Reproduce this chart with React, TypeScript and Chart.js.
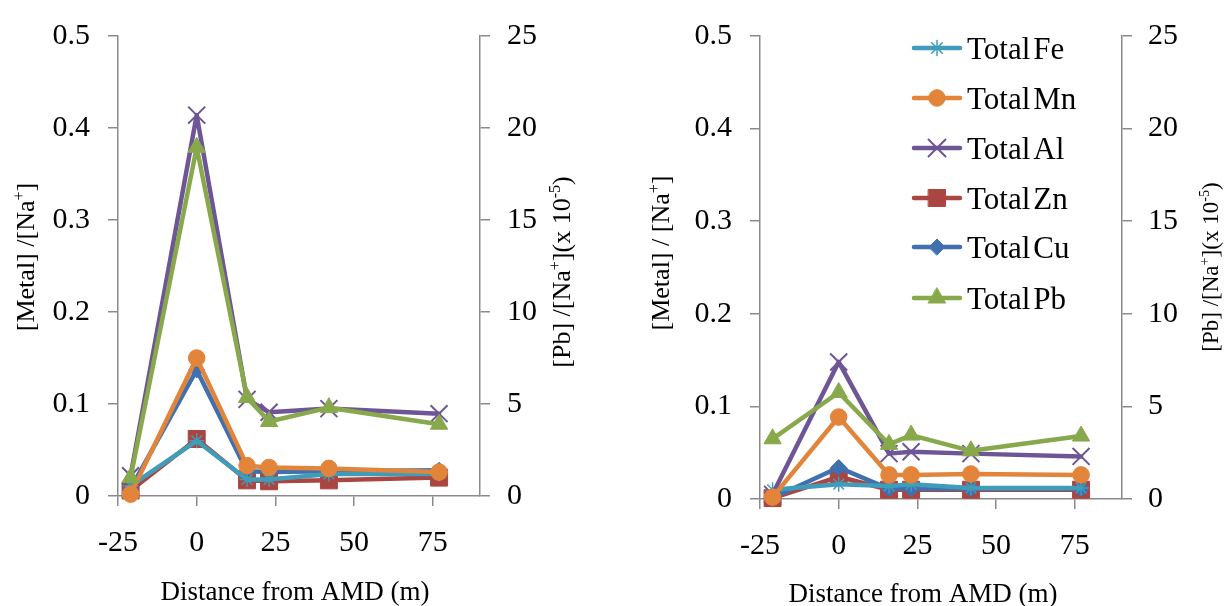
import React, { useEffect, useRef } from 'react';
import { Chart, registerables } from 'chart.js';
import { drawPoint } from 'chart.js/helpers';

Chart.register(...registerables);

// ---------- data ----------
const distances = [-21, 0, 16, 23, 42, 77];
const xTicks = [-25, 0, 25, 50, 75];
const yTicks = [0, 0.1, 0.2, 0.3, 0.4, 0.5];
const y2Ticks = [0, 5, 10, 15, 20, 25];

const seriesNames = ['Total Fe', 'Total Mn', 'Total Al', 'Total Zn', 'Total Cu', 'Total Pb'];

// left panel
const leftFe = [0.011, 0.060, 0.018, 0.018, 0.024, 0.024];
const leftMn = [0.002, 0.150, 0.033, 0.031, 0.030, 0.026];
const leftAl = [0.022, 0.414, 0.105, 0.091, 0.095, 0.0895];
const leftZn = [0.006, 0.062, 0.017, 0.016, 0.017, 0.020];
const leftCu = [0.008, 0.137, 0.027, 0.026, 0.027, 0.028];
const leftPb = [1.0, 18.95, 5.35, 4.05, 4.8, 3.9];

// right panel
const rightFe = [0.010, 0.016, 0.014, 0.016, 0.012, 0.012];
const rightMn = [0.002, 0.0885, 0.026, 0.026, 0.027, 0.026];
const rightAl = [0.005, 0.148, 0.049, 0.051, 0.049, 0.046];
const rightZn = [0.001, 0.024, 0.010, 0.010, 0.010, 0.010];
const rightCu = [0.001, 0.034, 0.011, 0.011, 0.011, 0.011];
const rightPb = [3.25, 5.75, 2.95, 3.45, 2.6, 3.4];

// ---------- styles ----------
const FONT = '"Liberation Serif", "Times New Roman", serif';
const AXIS_COLOR = '#8a8a8a';

type Style = { color: string; pointStyle: string; radius: number; pbw: number };
const STYLES: Record<string, Style> = {
  'Total Fe': { color: '#3F9DBA', pointStyle: 'star', radius: 7.5, pbw: 1.5 },
  'Total Mn': { color: '#E2853B', pointStyle: 'circle', radius: 8.3, pbw: 1 },
  'Total Al': { color: '#6E5596', pointStyle: 'crossRot', radius: 12, pbw: 2 },
  'Total Zn': { color: '#AB4542', pointStyle: 'rect', radius: 12, pbw: 1 },
  'Total Cu': { color: '#4071AE', pointStyle: 'rectRot', radius: 8, pbw: 1 },
  'Total Pb': { color: '#88A84C', pointStyle: 'triangle', radius: 10, pbw: 1 },
};

type Seg = { t: string; sup?: boolean };

function drawRich(ctx: CanvasRenderingContext2D, segs: Seg[], cx: number, cy: number, size: number, rotate: boolean) {
  ctx.save();
  ctx.translate(cx, cy);
  if (rotate) ctx.rotate(-Math.PI / 2);
  ctx.fillStyle = '#000';
  ctx.textBaseline = 'alphabetic';
  ctx.textAlign = 'left';
  const supSize = size * 0.62;
  const widths = segs.map((s) => {
    ctx.font = `${s.sup ? supSize : size}px ${FONT}`;
    return ctx.measureText(s.t).width;
  });
  const total = widths.reduce((a, b) => a + b, 0);
  let x = -total / 2;
  const base = size * 0.28;
  segs.forEach((s, i) => {
    ctx.font = `${s.sup ? supSize : size}px ${FONT}`;
    ctx.fillText(s.t, x, s.sup ? base - size * 0.4 : base);
    x += widths[i];
  });
  ctx.restore();
}

type PanelCfg = {
  fe: number[]; mn: number[]; al: number[]; zn: number[]; cu: number[]; pb: number[];
  yW: number; y1W: number; xH: number;
  yTitle: Seg[]; yTitlePos: [number, number]; yTitleSize: number;
  y1Title: Seg[]; y1TitlePos: [number, number]; y1TitleSize: number;
  xTitlePos: [number, number]; xTitleSize: number;
  legend: boolean;
};

const xTitle: Seg[] = [{ t: 'Distance from AMD (m)' }];

const leftPanel: PanelCfg = {
  fe: leftFe, mn: leftMn, al: leftAl, zn: leftZn, cu: leftCu, pb: leftPb,
  yW: 118, y1W: 132, xH: 110,
  yTitle: [{ t: '[Metal] /[Na' }, { t: '+', sup: true }, { t: ']' }],
  yTitlePos: [27, 257], yTitleSize: 26,
  y1Title: [{ t: '[Pb] /[Na' }, { t: '+', sup: true }, { t: '](x 10' }, { t: '-5', sup: true }, { t: ')' }],
  y1TitlePos: [563, 272], y1TitleSize: 26,
  xTitlePos: [295, 592], xTitleSize: 27,
  legend: false,
};

const rightPanel: PanelCfg = {
  fe: rightFe, mn: rightMn, al: rightAl, zn: rightZn, cu: rightCu, pb: rightPb,
  yW: 148, y1W: 103, xH: 107,
  yTitle: [{ t: '[Metal] / [Na' }, { t: '+', sup: true }, { t: ']' }],
  yTitlePos: [50, 253], yTitleSize: 26,
  y1Title: [{ t: '[Pb] /[Na' }, { t: '+', sup: true }, { t: '](x 10' }, { t: '-5', sup: true }, { t: ')' }],
  y1TitlePos: [600, 267], y1TitleSize: 23,
  xTitlePos: [311, 594], xTitleSize: 27,
  legend: true,
};

const legendRows = [48, 98, 148, 198, 247, 298];

function buildConfig(p: PanelCfg): any {
  const valuesByName: Record<string, number[]> = {
    'Total Fe': p.fe, 'Total Mn': p.mn, 'Total Al': p.al,
    'Total Zn': p.zn, 'Total Cu': p.cu, 'Total Pb': p.pb,
  };
  // first dataset is drawn on top
  const drawOrder = ['Total Pb', 'Total Mn', 'Total Al', 'Total Fe', 'Total Cu', 'Total Zn'];
  const datasets = drawOrder.map((name) => {
    const st = STYLES[name];
    return {
      label: name,
      data: distances.map((x, i) => ({ x, y: valuesByName[name][i] })),
      yAxisID: name === 'Total Pb' ? 'y1' : 'y',
      borderColor: st.color,
      backgroundColor: st.color,
      borderWidth: 4.5,
      borderJoinStyle: 'round',
      borderCapStyle: 'round',
      tension: 0,
      pointStyle: st.pointStyle,
      pointRadius: st.radius,
      pointBorderWidth: st.pbw,
      pointBackgroundColor: st.color,
      pointBorderColor: st.color,
      clip: false,
    };
  });

  const tickFont = { family: FONT, size: 30 };
  const grid = { drawOnChartArea: false, drawTicks: true, tickLength: 10, color: AXIS_COLOR, lineWidth: 1.5 };
  const border = { color: AXIS_COLOR, width: 1.5 };

  const titlesPlugin = {
    id: 'customTitles',
    afterDraw(chart: any) {
      const ctx = chart.ctx as CanvasRenderingContext2D;
      drawRich(ctx, p.yTitle, p.yTitlePos[0], p.yTitlePos[1], p.yTitleSize, true);
      drawRich(ctx, p.y1Title, p.y1TitlePos[0], p.y1TitlePos[1], p.y1TitleSize, true);
      drawRich(ctx, xTitle, p.xTitlePos[0], p.xTitlePos[1], p.xTitleSize, false);
      if (p.legend) {
        seriesNames.forEach((name, i) => {
          const st = STYLES[name];
          const y = legendRows[i];
          ctx.save();
          ctx.strokeStyle = st.color;
          ctx.lineWidth = 4.5;
          ctx.lineCap = 'round';
          ctx.beginPath();
          ctx.moveTo(302, y);
          ctx.lineTo(348, y);
          ctx.stroke();
          ctx.fillStyle = st.color;
          ctx.lineWidth = st.pbw;
          drawPoint(ctx, { pointStyle: st.pointStyle, radius: st.radius, rotation: 0, borderWidth: st.pbw } as any, 325, y);
          ctx.fillStyle = '#000';
          ctx.font = `31px ${FONT}`;
          ctx.textBaseline = 'alphabetic';
          ctx.textAlign = 'left';
          const parts = name.split(' ');
          ctx.fillText(parts[0], 355, y + 10.5);
          const w = ctx.measureText(parts[0]).width;
          ctx.fillText(parts[1], 355 + w + 3, y + 10.5);
          ctx.restore();
        });
      }
    },
  };

  return {
    type: 'line',
    data: { datasets },
    options: {
      responsive: false,
      animation: false,
      events: [],
      layout: { padding: { top: 24, left: 0, right: 0, bottom: 0 } },
      plugins: { legend: { display: false }, tooltip: { enabled: false }, title: { display: false } },
      scales: {
        x: {
          type: 'linear',
          min: -25,
          max: 90,
          afterBuildTicks: (s: any) => { s.ticks = xTicks.map((v) => ({ value: v })); },
          afterFit: (s: any) => { s.height = p.xH; },
          ticks: { font: tickFont, color: '#000', padding: 19, maxRotation: 0, autoSkip: false, callback: (v: any) => String(v) },
          grid, border,
        },
        y: {
          type: 'linear',
          position: 'left',
          min: 0,
          max: 0.5,
          afterBuildTicks: (s: any) => { s.ticks = yTicks.map((v) => ({ value: v })); },
          afterFit: (s: any) => { s.width = p.yW; },
          ticks: { font: tickFont, color: '#000', padding: 18, callback: (v: any) => String(v) },
          grid, border,
        },
        y1: {
          type: 'linear',
          position: 'right',
          min: 0,
          max: 25,
          afterBuildTicks: (s: any) => { s.ticks = y2Ticks.map((v) => ({ value: v })); },
          afterFit: (s: any) => { s.width = p.y1W; },
          ticks: { font: tickFont, color: '#000', padding: p.legend ? 16 : 17, callback: (v: any) => String(v) },
          grid, border,
        },
      },
    },
    plugins: [titlesPlugin],
  };
}

export default function App() {
  const leftRef = useRef<HTMLCanvasElement>(null);
  const rightRef = useRef<HTMLCanvasElement>(null);
  useEffect(() => {
    const c1 = new Chart(leftRef.current!, buildConfig(leftPanel));
    const c2 = new Chart(rightRef.current!, buildConfig(rightPanel));
    return () => { c1.destroy(); c2.destroy(); };
  }, []);
  return (
    <div style={{ position: 'absolute', left: 0, top: 0, width: 1225, height: 606, background: '#fff', overflow: 'hidden' }}>
      <canvas ref={leftRef} width={612} height={606} style={{ position: 'absolute', left: 0, top: 0 }} />
      <canvas ref={rightRef} width={613} height={606} style={{ position: 'absolute', left: 612, top: 0 }} />
    </div>
  );
}
